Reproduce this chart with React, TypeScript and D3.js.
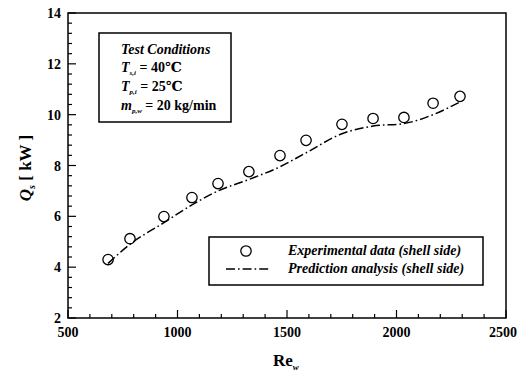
import React from "react";
import * as d3 from "d3";

const reW = [683, 783, 938, 1066, 1185, 1326, 1468, 1587, 1751, 1893, 2034, 2167, 2290];
const qExperimental = [4.3, 5.12, 5.99, 6.74, 7.29, 7.76, 8.39, 8.99, 9.62, 9.85, 9.89, 10.45, 10.72];
const qPrediction = [4.15, 4.9, 5.75, 6.45, 7.0, 7.45, 7.95, 8.5, 9.25, 9.55, 9.65, 10.0, 10.5];
const xTicks = [500, 1000, 1500, 2000, 2500];
const yTicks = [2, 4, 6, 8, 10, 12, 14];
const legendLabels = ["Experimental data (shell side)", "Prediction analysis (shell side)"];

const W = 518, H = 372;
const M = { left: 68, right: 506, top: 13, bottom: 318 };
const FONT = "Liberation Serif, Times New Roman, DejaVu Serif, serif";

export default function App() {
  const x = d3.scaleLinear().domain([500, 2500]).range([M.left, M.right]);
  const y = d3.scaleLinear().domain([2, 14]).range([M.bottom, M.top]);
  const xMinor = d3.range(500, 2501, 100);
  const yMinor = d3.range(2, 14.001, 0.4);
  const line = d3.line<number>().x((_, i) => x(reW[i])).y((d) => y(d)).curve(d3.curveMonotoneX);
  const dash = "9,3,1.6,3";

  return (
    <svg width={W} height={H} style={{ position: "absolute", left: 0, top: 0, background: "#fff", fontFamily: FONT }}>
      <rect x={0} y={0} width={W} height={H} fill="#fff" />
      <rect x={M.left} y={M.top} width={M.right - M.left} height={M.bottom - M.top} fill="none" stroke="#000" strokeWidth={1.5} />
      {xMinor.map((v) => {
        const major = v % 500 === 0;
        return <line key={"xm" + v} x1={x(v)} x2={x(v)} y1={M.bottom} y2={M.bottom - (major ? 8 : 4)} stroke="#000" strokeWidth={1.2} />;
      })}
      {yMinor.map((v, i) => {
        const major = i % 5 === 0;
        return <line key={"ym" + i} x1={M.left} x2={M.left + (major ? 8 : 4)} y1={y(v)} y2={y(v)} stroke="#000" strokeWidth={1.2} />;
      })}
      {xTicks.map((v, i) => {
        const last = i === xTicks.length - 1;
        return (
          <text key={"xl" + v} x={last ? W - 1 : x(v)} y={337} textAnchor={last ? "end" : "middle"} fontSize={14} fontWeight="bold">{v}</text>
        );
      })}
      {yTicks.map((v) => (
        <text key={"yl" + v} x={61} y={y(v) + 5} textAnchor="end" fontSize={14} fontWeight="bold">{v}</text>
      ))}
      <text x={273} y={366} fontSize={17} fontWeight="bold">
        Re<tspan fontSize={9} fontStyle="italic" dy={4}>w</tspan>
      </text>
      <text transform={`translate(31, 168) rotate(-90)`} textAnchor="middle" fontSize={17} fontWeight="bold">
        <tspan fontStyle="italic">Q</tspan>
        <tspan fontSize={10} fontStyle="italic" dy={4}>s</tspan>
        <tspan dy={-4}> [ kW ]</tspan>
      </text>
      <path d={line(qPrediction) || ""} fill="none" stroke="#000" strokeWidth={1.5} strokeDasharray={dash} />
      {reW.map((v, i) => (
        <circle key={"p" + i} cx={x(v)} cy={y(qExperimental[i])} r={5.2} fill="none" stroke="#000" strokeWidth={1.3} />
      ))}
      <rect x={99} y={33} width={132} height={89} fill="#fff" stroke="#000" strokeWidth={1.5} />
      <g fontSize={14} fontWeight="bold">
        <text x={121} y={54} fontStyle="italic">Test Conditions</text>
        <text x={121} y={72}>
          <tspan fontStyle="italic">T</tspan>
          <tspan fontSize={7} fontStyle="italic" dy={3}>s,i</tspan>
          <tspan dy={-3}> = 40℃</tspan>
        </text>
        <text x={121} y={91}>
          <tspan fontStyle="italic">T</tspan>
          <tspan fontSize={7} fontStyle="italic" dy={3}>p,i</tspan>
          <tspan dy={-3}> = 25℃</tspan>
        </text>
        <text x={121} y={110}>
          <tspan fontStyle="italic">m</tspan>
          <tspan fontSize={7} fontStyle="italic" dy={3}>p,w</tspan>
          <tspan dy={-3}> = 20 kg/min</tspan>
        </text>
      </g>
      <rect x={209} y={237} width={274} height={48} fill="#fff" stroke="#000" strokeWidth={1.5} />
      <circle cx={246} cy={251} r={5.2} fill="none" stroke="#000" strokeWidth={1.3} />
      <line x1={226} x2={271} y1={269} y2={269} stroke="#000" strokeWidth={1.5} strokeDasharray={dash} />
      <g fontSize={14} fontWeight="bold" fontStyle="italic">
        <text x={288} y={255}>{legendLabels[0]}</text>
        <text x={288} y={273}>{legendLabels[1]}</text>
      </g>
    </svg>
  );
}
